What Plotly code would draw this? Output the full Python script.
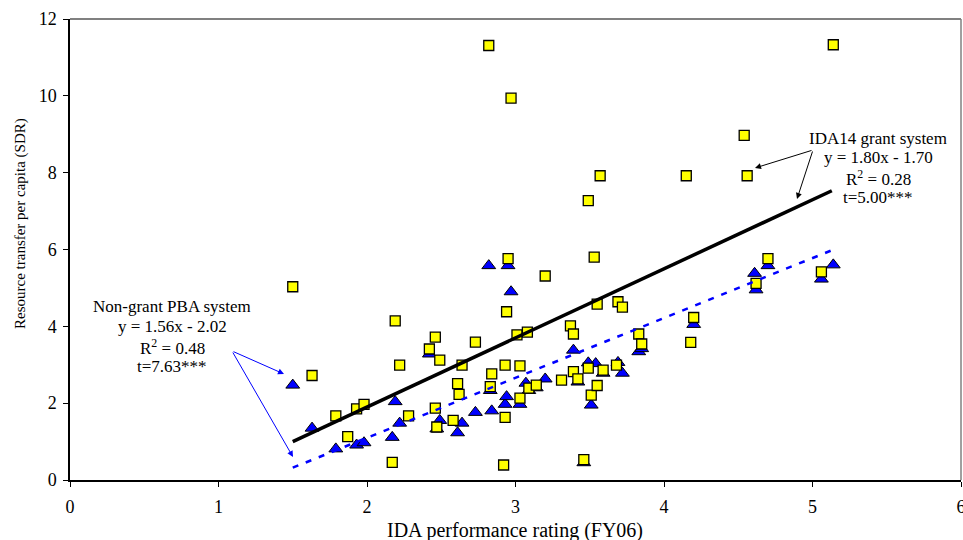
import plotly.graph_objects as go

# IDA14 grant system (yellow squares)
grant_x = [1.50, 1.63, 1.79, 1.87, 1.93, 1.98, 2.17, 2.19, 2.22, 2.28, 2.42, 2.46, 2.46, 2.47,
           2.49, 2.58, 2.61, 2.62, 2.64, 2.73, 2.82, 2.83, 2.84, 2.93, 2.92, 2.93, 2.94, 2.95,
           2.97, 3.01, 3.03, 3.03, 3.08, 3.09, 3.14, 3.20, 3.31, 3.37, 3.39, 3.39, 3.42, 3.46,
           3.49, 3.49, 3.51, 3.53, 3.55, 3.55, 3.57, 3.59, 3.68, 3.69, 3.72, 3.83, 3.85, 4.15,
           4.18, 4.20, 4.54, 4.56, 4.62, 4.70, 5.06, 5.14]
grant_y = [5.03, 2.72, 1.67, 1.13, 1.85, 1.97, 0.46, 4.14, 2.99, 1.67, 3.41, 3.72, 1.87, 1.38,
           3.12, 1.55, 2.51, 2.23, 2.99, 3.59, 11.31, 2.43, 2.76, 1.63, 0.39, 2.99, 4.38, 5.76,
           9.94, 3.78, 2.13, 2.97, 3.85, 2.39, 2.47, 5.31, 2.60, 4.01, 3.80, 2.82, 2.63, 0.53,
           7.27, 2.91, 2.21, 5.80, 4.58, 2.46, 7.92, 2.86, 2.99, 4.64, 4.50, 3.80, 3.54, 7.92,
           3.58, 4.23, 8.97, 7.92, 5.12, 5.76, 5.42, 11.33]

# Non-grant PBA system (blue triangles)
pba_x = [1.50, 1.63, 1.79, 1.93, 1.98, 2.17, 2.19, 2.22, 2.42, 2.47, 2.49, 2.61, 2.64, 2.73,
         2.82, 2.83, 2.84, 2.93, 2.94, 2.95, 2.97, 3.03, 3.07, 3.09, 3.14, 3.20, 3.39, 3.42,
         3.46, 3.49, 3.51, 3.54, 3.59, 3.69, 3.72, 3.83, 3.85, 4.20, 4.61, 4.62, 4.70, 5.06, 5.14]
pba_y = [2.47, 1.35, 0.81, 0.91, 0.97, 1.11, 2.04, 1.48, 3.28, 1.33, 1.55, 1.23, 1.48, 1.76,
         5.58, 2.33, 1.80, 1.97, 2.17, 5.58, 4.90, 1.97, 2.52, 2.33, 2.40, 2.63, 3.38, 2.55,
         0.45, 3.05, 1.95, 3.03, 2.78, 3.06, 2.78, 3.34, 3.42, 4.05, 5.38, 4.95, 5.58, 5.23, 5.60]

# Trendline endpoints
fit_x = [1.50, 5.13]
grant_fit_y = [1.00, 7.53]
pba_fit_y = [0.32, 5.98]

x_ticks = [0, 1, 2, 3, 4, 5, 6]
y_ticks = [0, 2, 4, 6, 8, 10, 12]

FONT = "Times New Roman, Liberation Serif, serif"

fig = go.Figure()
fig.add_trace(go.Scatter(
    x=pba_x, y=pba_y, mode="markers", name="Non-grant PBA system",
    marker=dict(symbol="triangle-up", size=12, color="#0000FF",
                line=dict(color="#000000", width=1))))
fig.add_trace(go.Scatter(
    x=grant_x, y=grant_y, mode="markers", name="IDA14 grant system",
    marker=dict(symbol="square", size=10, color="#FFFF00",
                line=dict(color="#000000", width=1.3))))
fig.add_trace(go.Scatter(
    x=fit_x, y=pba_fit_y, mode="lines",
    line=dict(color="#0000FF", width=2.5, dash="6px,8px")))
fig.add_trace(go.Scatter(
    x=fit_x, y=grant_fit_y, mode="lines",
    line=dict(color="#000000", width=3.5)))

annotations = [
    dict(x=878, y=138, text="IDA14 grant system"),
    dict(x=878, y=157, text="y = 1.80x - 1.70"),
    dict(x=878, y=178, text="R<sup>2</sup> = 0.28"),
    dict(x=878, y=197, text="t=5.00***"),
    dict(x=172, y=306, text="Non-grant PBA system"),
    dict(x=172, y=326, text="y = 1.56x - 2.02"),
    dict(x=172, y=347, text="R<sup>2</sup> = 0.48"),
    dict(x=172, y=366, text="t=7.63***"),
]

L, R, T, B = 70, 961, 19, 480
W, H = R - L, B - T

def px_to_paper(px, py):
    return (px - L) / W, (B - py) / H

ann_list = []
for a in annotations:
    xp, yp = px_to_paper(a["x"], a["y"])
    ann_list.append(dict(x=xp, y=yp, xref="paper", yref="paper", text=a["text"],
                         showarrow=False, xanchor="center", yanchor="middle",
                         font=dict(family=FONT, size=17, color="#000000")))

# arrows
arrows = [
    ((813, 150), (755, 168), "#000000"),
    ((813, 150), (797, 199), "#000000"),
    ((232, 351), (284, 374), "#0000FF"),
    ((232, 351), (293, 457), "#0000FF"),
]
for (sx, sy), (ex, ey), col in arrows:
    hx, hy = px_to_paper(ex, ey)
    ann_list.append(dict(x=hx, y=hy, xref="paper", yref="paper", text="",
                         showarrow=True, ax=sx - ex, ay=sy - ey, axref="pixel", ayref="pixel",
                         arrowhead=2, arrowsize=1.2, arrowwidth=1, arrowcolor=col))

# axis titles
xp, yp = px_to_paper(515, 530)
ann_list.append(dict(x=xp, y=yp, xref="paper", yref="paper", text="IDA performance rating (FY06)",
                     showarrow=False, xanchor="center", yanchor="middle",
                     font=dict(family=FONT, size=20, color="#000000")))
xp, yp = px_to_paper(20, 224)
ann_list.append(dict(x=xp, y=yp, xref="paper", yref="paper", text="Resource transfer per capita (SDR)",
                     showarrow=False, xanchor="center", yanchor="middle", textangle=-90,
                     font=dict(family=FONT, size=15, color="#000000")))

fig.update_layout(
    width=963, height=540,
    margin=dict(l=L, r=963 - R, t=T, b=540 - B, autoexpand=False),
    paper_bgcolor="#FFFFFF", plot_bgcolor="#FFFFFF",
    showlegend=False,
    annotations=ann_list,
    font=dict(family=FONT, size=18, color="#000000"),
    shapes=[
        dict(type="line", xref="paper", yref="paper", x0=0, x1=1, y0=1, y1=1,
             line=dict(color="#808080", width=2)),
        dict(type="line", xref="paper", yref="paper", x0=1, x1=1, y0=0, y1=1,
             line=dict(color="#808080", width=1.5)),
    ],
)
fig.update_xaxes(range=[0, 6], tickvals=x_ticks, ticktext=[str(v) for v in x_ticks],
                 showgrid=False, zeroline=False, showline=True, linecolor="#000000", linewidth=1.5,
                 ticks="outside", ticklen=5, tickcolor="#000000", tickwidth=1,
                 ticklabelstandoff=5, ticklabeloverflow="allow", automargin=False,
                 tickfont=dict(family=FONT, size=18, color="#000000"))
fig.update_yaxes(range=[0, 12], tickvals=y_ticks, ticktext=[str(v) for v in y_ticks],
                 showgrid=False, zeroline=False, showline=True, linecolor="#000000", linewidth=1.5,
                 ticks="outside", ticklen=5, tickcolor="#000000", tickwidth=1,
                 ticklabelstandoff=3, automargin=False,
                 tickfont=dict(family=FONT, size=18, color="#000000"))

fig.write_html("out.html")
